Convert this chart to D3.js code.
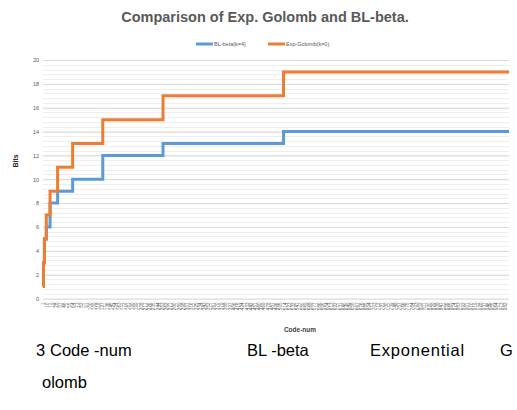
<!DOCTYPE html>
<html lang="en">
  <head>
    <meta charset="UTF-8" />
    <title>Comparison of Exp. Golomb and BL-beta</title>
    <style>
      body { margin: 0; background: #fff; }
      svg { display: block; }
    </style>
  </head>
  <body>
    <div id="chart"></div>

    <script src="https://cdn.jsdelivr.net/npm/d3@7"></script>
    <script>

      // code numbers where the code length changes (step start points)
      var codeNums = [0, 1, 3, 7, 15, 31, 63, 127, 255, 511];
      var lastCodeNum = 990;
      var blBeta = [1, 3, 5, 6, 8, 9, 10, 12, 13, 14];
      var expGolomb = [1, 3, 5, 7, 9, 11, 13, 15, 17, 19];
      var seriesNames = ["BL-beta(k=4)", "Exp-Golomb(k=0)"];
      var yTicks = [0, 2, 4, 6, 8, 10, 12, 14, 16, 18, 20];
      var xLabels = d3.range(1, lastCodeNum, 9);
      var captionWords = ["3", "Code -num", "BL -beta", "Exponential", "G", "olomb"];

      var w = 517, h = 410;
      var plot = { left: 43, right: 509, top: 60, bottom: 298.5 };
      var colors = ["#5b9bd5", "#ed7d31"];

      var svg = d3.select("#chart").append("svg")
                  .attr("width", w)
                  .attr("height", h);

      var xScale = d3.scaleLinear()
                     .domain([0, lastCodeNum])
                     .range([plot.left, plot.right]);
      var yScale = d3.scaleLinear()
                     .domain([0, 20])
                     .range([plot.bottom, plot.top]);

      // minor gridlines (excel default: major / 5)
      svg.append("g")
         .selectAll("line")
         .data(d3.range(0, 20, 0.4))
         .enter()
         .append("line")
         .attr("x1", plot.left)
         .attr("x2", plot.right)
         .attr("y1", function(d) { return Math.round(yScale(d)) + 0.5; })
         .attr("y2", function(d) { return Math.round(yScale(d)) + 0.5; })
         .attr("stroke", "#eeeeee")
         .attr("stroke-width", 1);

      var yAxis = d3.axisLeft(yScale)
                    .tickValues(yTicks)
                    .tickSize(-(plot.right - plot.left))
                    .tickPadding(4);
      var gy = svg.append("g")
                  .attr("transform", "translate(" + plot.left + ",0)")
                  .call(yAxis);
      gy.select(".domain").remove();
      gy.selectAll(".tick line").attr("stroke", "#d9d9d9");
      gy.selectAll(".tick text")
        .attr("fill", "#595959")
        .style("font", "5.5px 'Liberation Sans', sans-serif");

      // category labels along the bottom
      svg.append("g")
         .selectAll("text")
         .data(xLabels)
         .enter()
         .append("text")
         .attr("transform", function(d) {
           return "translate(" + (xScale(d) + 1.7) + "," + (plot.bottom + 4) + ")rotate(-90)";
         })
         .attr("text-anchor", "end")
         .attr("fill", "#595959")
         .style("font", "4.6px 'Liberation Sans', sans-serif")
         .text(function(d) { return d; });

      var line = d3.line()
                   .x(function(d) { return xScale(d[0]); })
                   .y(function(d) { return yScale(d[1]); })
                   .curve(d3.curveStepAfter);

      [blBeta, expGolomb].forEach(function(vals, i) {
        var pts = codeNums.map(function(n, j) { return [n, vals[j]]; });
        pts.push([lastCodeNum, vals[vals.length - 1]]);
        svg.append("path")
           .datum(pts)
           .attr("fill", "none")
           .attr("stroke", colors[i])
           .attr("stroke-width", 3)
           .attr("d", line);
      });

      // title
      svg.append("text")
         .attr("x", 265)
         .attr("y", 22)
         .attr("text-anchor", "middle")
         .attr("fill", "#595959")
         .style("font", "bold 14.5px 'Liberation Sans', sans-serif")
         .text("Comparison of Exp. Golomb and BL-beta.");

      // legend
      var legendX = [196, 268];
      seriesNames.forEach(function(name, i) {
        svg.append("line")
           .attr("x1", legendX[i])
           .attr("x2", legendX[i] + 17)
           .attr("y1", 44)
           .attr("y2", 44)
           .attr("stroke", colors[i])
           .attr("stroke-width", 3);
        svg.append("text")
           .attr("x", legendX[i] + 18)
           .attr("y", 46)
           .attr("fill", "#595959")
           .style("font", "5.5px 'Liberation Sans', sans-serif")
           .text(name);
      });

      // axis titles
      svg.append("text")
         .attr("text-anchor", "middle")
         .attr("transform", "translate(18,161)rotate(-90)")
         .attr("fill", "#262626")
         .style("font", "bold 7px 'Liberation Sans', sans-serif")
         .text("Bits");
      svg.append("text")
         .attr("text-anchor", "middle")
         .attr("x", 300)
         .attr("y", 332)
         .attr("fill", "#404040")
         .style("font", "bold 6.5px 'Liberation Sans', sans-serif")
         .text("Code-num");

      // caption under the figure
      var capX = [36, 50, 247, 370, 500, 42];
      var capY = [356, 356, 356, 356, 356, 388];
      var capSpacing = [0, 0, 0, 0.8, 0, 0];
      svg.append("g")
         .selectAll("text")
         .data(captionWords)
         .enter()
         .append("text")
         .attr("x", function(d, i) { return capX[i]; })
         .attr("y", function(d, i) { return capY[i]; })
         .attr("fill", "#000")
         .style("font", "16.5px 'Liberation Sans', sans-serif")
         .style("letter-spacing", function(d, i) { return capSpacing[i] + "px"; })
         .text(function(d) { return d; });

    </script>
  </body>
</html>
